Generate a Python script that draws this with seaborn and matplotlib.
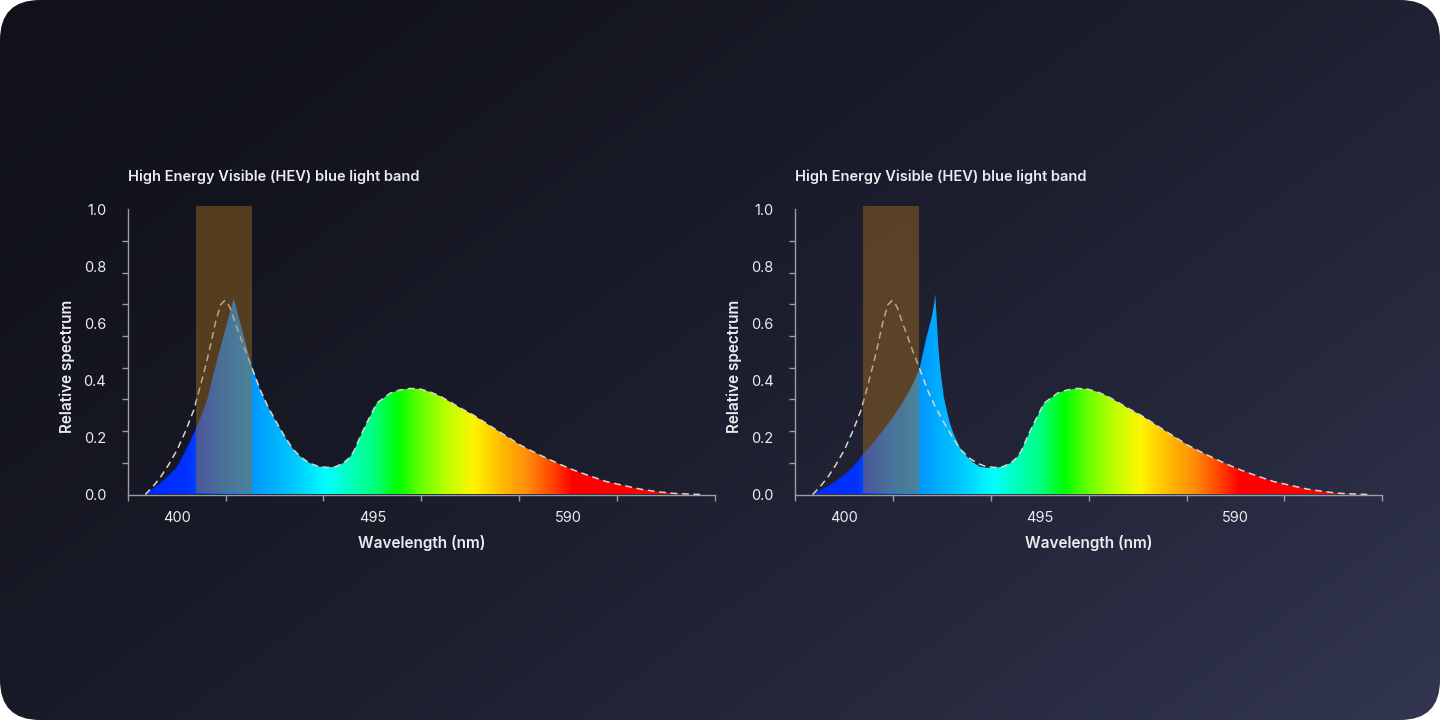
import numpy as np
import pandas as pd
import matplotlib
import matplotlib.pyplot as plt
import seaborn as sns
from matplotlib.colors import LinearSegmentedColormap, to_rgb
from matplotlib.patches import FancyBboxPatch, Rectangle

matplotlib.use("Agg")

# --- data ---
# green/red hump, shared by both spectra and the dashed reference
hump_nm = [492.2, 497.1, 503.5, 508.0, 513.2, 518.0, 522.9, 527.8, 532.6, 538.0,
           543.9, 549.5, 555.3, 561.0, 566.6, 573.0, 579.6, 586.0, 592.5, 600.5,
           608.7, 616.7, 624.8, 633.0, 641.0, 654.0]
hump_rel = [0.25, 0.32, 0.355, 0.366, 0.372, 0.370, 0.36, 0.345, 0.325, 0.302,
            0.279, 0.253, 0.226, 0.200, 0.174, 0.150, 0.127, 0.106, 0.086, 0.065,
            0.045, 0.032, 0.019, 0.010, 0.004, 0.0]

# dip between blue peak and hump (shared)
dip_nm = [477.0, 481.05, 484.0, 486.0, 489.1]
dip_rel = [0.097, 0.111, 0.130, 0.152, 0.203]

# left chart: LED with broad blue peak
left_nm = [384.0, 388.0, 392.1, 396.0, 400.2, 404.5, 409.05, 412.0, 414.7, 417.3,
           419.6, 422.0, 424.4, 426.3, 427.7, 429.3, 430.9, 433.3, 435.7, 438.2,
           440.6, 444.5, 448.7, 452.7, 456.8, 460.8, 464.8, 469.0, 472.95]
left_rel = [0.0, 0.018, 0.04, 0.066, 0.097, 0.155, 0.226, 0.277, 0.33, 0.405,
            0.47, 0.535, 0.60, 0.65, 0.687, 0.645, 0.60, 0.535, 0.47, 0.415,
            0.366, 0.305, 0.25, 0.20, 0.156, 0.128, 0.109, 0.098, 0.095]

# right chart: narrow blue peak shifted out of the HEV band
right_nm = [384.35, 389.35, 394.8, 398.9, 402.9, 406.2, 409.4, 414.1, 419.1, 423.2,
            427.2, 430.5, 433.65, 436.6, 440.1, 442.6, 443.6, 444.3, 445.0, 445.8,
            446.6, 447.4, 448.5, 449.85, 451.3, 453.05, 456.0, 459.6, 462.8, 466.0,
            470.0, 474.1]
right_rel = [0.0, 0.018, 0.04, 0.062, 0.086, 0.112, 0.142, 0.18, 0.226, 0.266,
             0.308, 0.348, 0.39, 0.44, 0.553, 0.623, 0.66, 0.703, 0.62, 0.518,
             0.45, 0.40, 0.34, 0.296, 0.252, 0.215, 0.168, 0.133, 0.112, 0.097,
             0.093, 0.095]

# dashed reference spectrum (blue part, then follows the left curve)
ref_nm = [384.8, 388.5, 392.1, 396.0, 400.2, 404.3, 408.3, 411.5, 414.7, 416.8,
          418.75, 421.2, 423.3, 424.7, 426.0, 428.5, 430.9, 433.3, 435.7, 438.2,
          440.6]
ref_rel = [0.0, 0.028, 0.06, 0.103, 0.156, 0.222, 0.296, 0.38, 0.47, 0.535,
           0.60, 0.664, 0.68, 0.672, 0.653, 0.60, 0.553, 0.505, 0.46, 0.412,
           0.366]

hev_band = (409.4, 436.6)
x_labels = [400, 495, 590]
y_labels = [0.0, 0.2, 0.4, 0.6, 0.8, 1.0]
x_range = (376.25, 661.25)

spectrum_nm = [376.25, 405, 420, 440, 458, 472, 480, 495, 507, 518, 531, 544,
               557, 570, 582, 592, 661.25]
spectrum_hex = ["#0028ff", "#0032ff", "#0070ff", "#00a0ff", "#00ccff", "#00ffff",
                "#00ffd2", "#00ff82", "#00ff00", "#64ff00", "#beff00", "#fff500",
                "#ffbe00", "#ff8c0a", "#ff4600", "#ff0000", "#ff0000"]

title = "High Energy Visible (HEV) blue light band"

# --- style ---
sns.set_style("ticks")
plt.rcParams["font.family"] = ["Inter", "DejaVu Sans"]
text_col = "#ececf0"
axis_col = "#9a9ca8"

W, H = 1440, 720
fig = plt.figure(figsize=(W / 100, H / 100), dpi=100, facecolor="white")

# background card with diagonal gradient and rounded corners
bg = fig.add_axes([0, 0, 1, 1], zorder=-5)
bg.set_xlim(0, W)
bg.set_ylim(H, 0)
bg.axis("off")
gx, gy = np.meshgrid(np.linspace(0, 1, 360), np.linspace(0, 1, 180))
t = (0.6 * gx + 0.4 * gy) ** 1.5
c0 = np.array([16, 17, 26]) / 255
c1 = np.array([50, 54, 80]) / 255
grad = c0 + (c1 - c0) * t[..., None]
im_bg = bg.imshow(grad, extent=(0, W, H, 0), aspect="auto", interpolation="bilinear")
card = FancyBboxPatch((0, 0), W, H, boxstyle="round,pad=0,rounding_size=40",
                      transform=bg.transData, facecolor="none", edgecolor="none")
bg.add_patch(card)
im_bg.set_clip_path(card)

stops = [(n - x_range[0]) / (x_range[1] - x_range[0]) for n in spectrum_nm]
rainbow = LinearSegmentedColormap.from_list("vis", list(zip(stops, [to_rgb(c) for c in spectrum_hex])))

full_ref_nm = ref_nm + left_nm[left_nm.index(444.5):] + dip_nm + hump_nm
full_ref_rel = ref_rel + left_rel[left_nm.index(444.5):] + dip_rel + hump_rel

panels = [
    (127.7, left_nm + dip_nm + hump_nm, left_rel + dip_rel + hump_rel),
    (795.0, right_nm + dip_nm + hump_nm, right_rel + dip_rel + hump_rel),
]

for x0, wl, rel in panels:
    ax = fig.add_axes([x0 / W, (H - 494.5) / H, 587.3 / W, 285.2 / H])
    ax.set_facecolor("none")
    df = pd.DataFrame({"nm": wl, "rel": rel})

    # rainbow fill clipped by the spectrum
    poly = ax.fill_between(df["nm"], df["rel"], 0, facecolor="none", edgecolor="none")
    img = ax.imshow(np.linspace(0, 1, 1000)[None, :], cmap=rainbow, aspect="auto",
                    extent=(x_range[0], x_range[1], 0, 1), interpolation="bilinear", zorder=2)
    img.set_clip_path(poly.get_paths()[0], transform=ax.transData)

    ref = pd.DataFrame({"nm": full_ref_nm, "rel": full_ref_rel})
    sns.lineplot(data=ref, x="nm", y="rel", ax=ax, estimator=None, sort=False,
                 color="#d8d4cc", lw=1.1, linestyle=(0, (4.5, 3)), zorder=3)

    ax.add_patch(Rectangle((hev_band[0], 0.007), hev_band[1] - hev_band[0], 1.003,
                           facecolor="#a56e1e", alpha=0.45, edgecolor="none",
                           zorder=4, clip_on=False))

    ax.set_xlim(*x_range)
    ax.set_ylim(0, 1)

    # labels sit between tick marks, like the design
    ax.set_xticks(x_labels)
    ax.set_xticklabels([str(v) for v in x_labels])
    ax.set_xticks(np.linspace(x_range[0], x_range[1], 7), minor=True)
    ax.set_yticks(y_labels)
    ax.set_yticklabels([f"{v:.1f}" for v in y_labels])
    ax.set_yticks(np.linspace(0, 1, 10), minor=True)
    ax.tick_params(which="major", length=0, labelsize=10.5, labelcolor=text_col)
    ax.tick_params(axis="x", which="major", pad=12)
    ax.tick_params(axis="y", which="major", pad=15.5)
    ax.tick_params(which="minor", length=4.5, width=1, color=axis_col, direction="out")

    sns.despine(ax=ax)
    for s in ("left", "bottom"):
        ax.spines[s].set_color(axis_col)
        ax.spines[s].set_linewidth(1)

    ax.set_xlabel("Wavelength (nm)", fontsize=11, color=text_col, fontweight="semibold")
    ax.xaxis.set_label_coords(0.5, -0.142)
    ax.set_ylabel("Relative spectrum", fontsize=11, color=text_col, fontweight="semibold")
    ax.yaxis.set_label_coords(-0.0897, 0.4506)
    ax.text(0.0, 1.113, title, transform=ax.transAxes, ha="left", va="center",
            fontsize=10.5, color=text_col, fontweight="semibold")

fig.savefig("out.png", dpi=100, facecolor="white")
